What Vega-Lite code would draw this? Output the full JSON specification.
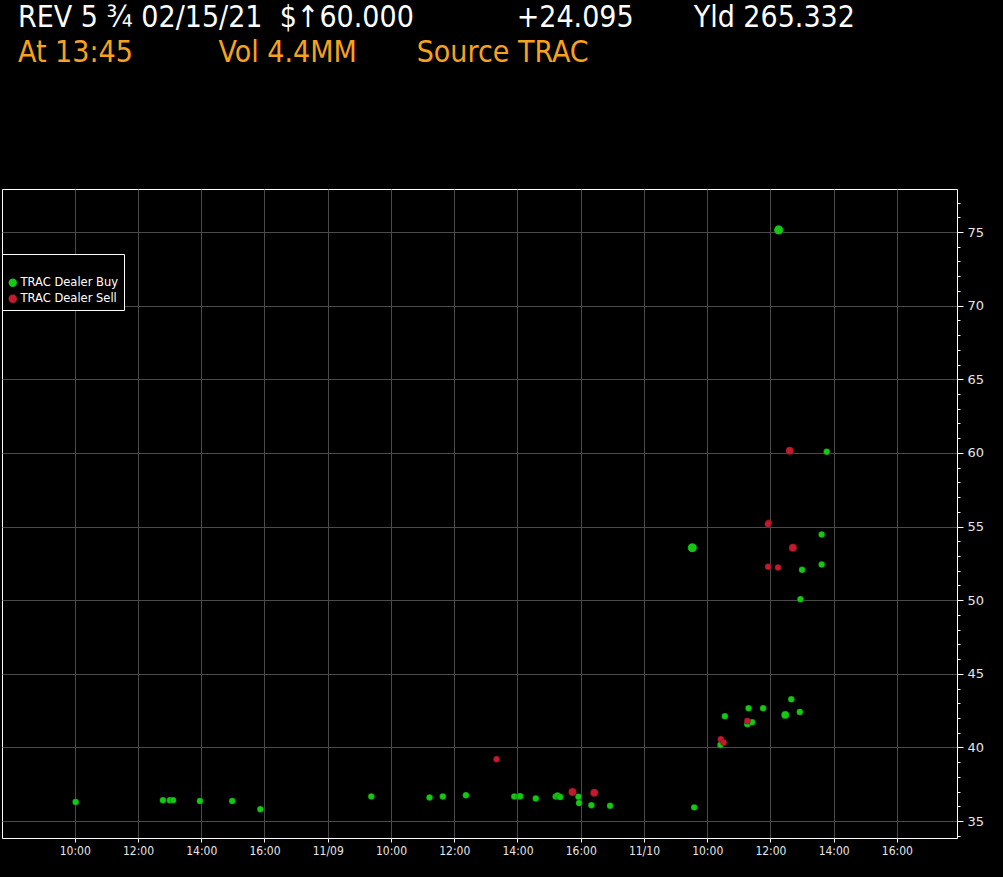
{
  "$schema": "https://vega.github.io/schema/vega-lite/v6.json",
  "width": 1003,
  "height": 877,
  "autosize": {"type": "fit", "contains": "padding"},
  "padding": {"left": 2, "top": 3, "right": 19, "bottom": 19},
  "background": "#000000",
  "title": {
    "text": "REV 5 ¾ 02/15/21\u00a0\u00a0$↑60.000\u00a0\u00a0\u00a0\u00a0\u00a0\u00a0\u00a0\u00a0\u00a0\u00a0\u00a0\u00a0+24.095\u00a0\u00a0\u00a0\u00a0\u00a0\u00a0\u00a0Yld 265.332",
    "subtitle": "\u00a0\u00a0\u00a0\u00a0\u00a0\u00a0\u00a0\u00a0\u00a0\u00a0\u00a0\u00a0\u00a0\u00a0\u00a0\u00a0\u00a0\u00a0\u00a0\u00a0\u00a0\u00a0\u00a0\u00a0\u00a0\u00a0\u00a0\u00a0\u00a0\u00a0\u00a0\u00a0\u00a0At 13:45\u00a0\u00a0\u00a0\u00a0\u00a0\u00a0\u00a0\u00a0\u00a0\u00a0Vol 4.4MM\u00a0\u00a0\u00a0\u00a0\u00a0\u00a0\u00a0Source TRAC",
    "anchor": "start",
    "frame": "group",
    "dx": 16,
    "offset": 121,
    "color": "#ffffff",
    "font": "DejaVu Sans Condensed",
    "fontSize": 30,
    "fontWeight": "normal",
    "subtitleColor": "#f7a21c",
    "subtitleFont": "DejaVu Sans Condensed",
    "subtitleFontSize": 30,
    "subtitlePadding": 5
  },
  "config": {
    "view": {"stroke": "#ffffff", "strokeWidth": 1},
    "axis": {
      "domain": false,
      "gridColor": "#4a4a4a",
      "gridWidth": 1,
      "tickColor": "#ffffff",
      "labelColor": "#e6e6e6",
      "titleColor": "#e6e6e6"
    },
    "legend": {
      "labelColor": "#ffffff",
      "titleColor": "#ffffff"
    }
  },
  "data": {
    "values": [
      {"side": "TRAC Dealer Buy", "session_hour": 2.03, "price": 36.29, "trade_size": "small"},
      {"side": "TRAC Dealer Buy", "session_hour": 4.79, "price": 36.42, "trade_size": "small"},
      {"side": "TRAC Dealer Buy", "session_hour": 5.01, "price": 36.42, "trade_size": "small"},
      {"side": "TRAC Dealer Buy", "session_hour": 5.11, "price": 36.42, "trade_size": "small"},
      {"side": "TRAC Dealer Buy", "session_hour": 5.96, "price": 36.36, "trade_size": "small"},
      {"side": "TRAC Dealer Buy", "session_hour": 6.98, "price": 36.36, "trade_size": "small"},
      {"side": "TRAC Dealer Buy", "session_hour": 7.87, "price": 35.81, "trade_size": "small"},
      {"side": "TRAC Dealer Buy", "session_hour": 11.38, "price": 36.67, "trade_size": "small"},
      {"side": "TRAC Dealer Buy", "session_hour": 13.22, "price": 36.6, "trade_size": "small"},
      {"side": "TRAC Dealer Buy", "session_hour": 13.64, "price": 36.67, "trade_size": "small"},
      {"side": "TRAC Dealer Buy", "session_hour": 14.37, "price": 36.76, "trade_size": "small"},
      {"side": "TRAC Dealer Buy", "session_hour": 15.9, "price": 36.67, "trade_size": "small"},
      {"side": "TRAC Dealer Buy", "session_hour": 16.04, "price": 36.67, "trade_size": "small"},
      {"side": "TRAC Dealer Buy", "session_hour": 16.09, "price": 36.69, "trade_size": "small"},
      {"side": "TRAC Dealer Buy", "session_hour": 16.58, "price": 36.54, "trade_size": "small"},
      {"side": "TRAC Dealer Buy", "session_hour": 17.21, "price": 36.67, "trade_size": "small"},
      {"side": "TRAC Dealer Buy", "session_hour": 17.27, "price": 36.74, "trade_size": "small"},
      {"side": "TRAC Dealer Buy", "session_hour": 17.35, "price": 36.63, "trade_size": "small"},
      {"side": "TRAC Dealer Buy", "session_hour": 17.93, "price": 36.65, "trade_size": "small"},
      {"side": "TRAC Dealer Buy", "session_hour": 17.95, "price": 36.22, "trade_size": "small"},
      {"side": "TRAC Dealer Buy", "session_hour": 18.34, "price": 36.08, "trade_size": "small"},
      {"side": "TRAC Dealer Buy", "session_hour": 18.93, "price": 36.04, "trade_size": "small"},
      {"side": "TRAC Dealer Buy", "session_hour": 21.59, "price": 35.93, "trade_size": "small"},
      {"side": "TRAC Dealer Buy", "session_hour": 21.53, "price": 53.56, "trade_size": "large"},
      {"side": "TRAC Dealer Buy", "session_hour": 22.42, "price": 40.17, "trade_size": "small"},
      {"side": "TRAC Dealer Buy", "session_hour": 22.56, "price": 42.12, "trade_size": "small"},
      {"side": "TRAC Dealer Buy", "session_hour": 23.27, "price": 41.58, "trade_size": "small"},
      {"side": "TRAC Dealer Buy", "session_hour": 23.42, "price": 41.71, "trade_size": "small"},
      {"side": "TRAC Dealer Buy", "session_hour": 23.31, "price": 42.66, "trade_size": "small"},
      {"side": "TRAC Dealer Buy", "session_hour": 23.77, "price": 42.66, "trade_size": "small"},
      {"side": "TRAC Dealer Buy", "session_hour": 24.26, "price": 75.14, "trade_size": "large"},
      {"side": "TRAC Dealer Buy", "session_hour": 24.47, "price": 42.21, "trade_size": "medium"},
      {"side": "TRAC Dealer Buy", "session_hour": 24.66, "price": 43.27, "trade_size": "small"},
      {"side": "TRAC Dealer Buy", "session_hour": 24.93, "price": 42.41, "trade_size": "small"},
      {"side": "TRAC Dealer Buy", "session_hour": 24.95, "price": 50.07, "trade_size": "small"},
      {"side": "TRAC Dealer Buy", "session_hour": 25.0, "price": 52.06, "trade_size": "small"},
      {"side": "TRAC Dealer Buy", "session_hour": 25.62, "price": 54.46, "trade_size": "small"},
      {"side": "TRAC Dealer Buy", "session_hour": 25.62, "price": 52.42, "trade_size": "small"},
      {"side": "TRAC Dealer Buy", "session_hour": 25.78, "price": 60.08, "trade_size": "small"},
      {"side": "TRAC Dealer Sell", "session_hour": 15.34, "price": 39.2, "trade_size": "small"},
      {"side": "TRAC Dealer Sell", "session_hour": 17.74, "price": 36.97, "trade_size": "medium"},
      {"side": "TRAC Dealer Sell", "session_hour": 18.43, "price": 36.92, "trade_size": "medium"},
      {"side": "TRAC Dealer Sell", "session_hour": 22.43, "price": 40.56, "trade_size": "small"},
      {"side": "TRAC Dealer Sell", "session_hour": 22.52, "price": 40.33, "trade_size": "small"},
      {"side": "TRAC Dealer Sell", "session_hour": 23.27, "price": 41.8, "trade_size": "small"},
      {"side": "TRAC Dealer Sell", "session_hour": 23.93, "price": 52.27, "trade_size": "small"},
      {"side": "TRAC Dealer Sell", "session_hour": 23.95, "price": 55.25, "trade_size": "small"},
      {"side": "TRAC Dealer Sell", "session_hour": 23.92, "price": 55.17, "trade_size": "small"},
      {"side": "TRAC Dealer Sell", "session_hour": 24.24, "price": 52.22, "trade_size": "small"},
      {"side": "TRAC Dealer Sell", "session_hour": 24.61, "price": 60.15, "trade_size": "medium"},
      {"side": "TRAC Dealer Sell", "session_hour": 24.71, "price": 53.56, "trade_size": "medium"}
    ]
  },
  "layer": [
    {
      "mark": {"type": "circle", "opacity": 1, "stroke": "#000000", "strokeWidth": 0.4, "strokeOpacity": 0.5},
      "encoding": {
        "x": {
          "field": "session_hour",
          "type": "quantitative",
          "scale": {"domain": [-0.3, 29.9], "nice": false, "zero": false},
          "axis": {
            "title": null,
            "orient": "bottom",
            "values": [2, 4, 6, 8, 10, 12, 14, 16, 18, 20, 22, 24, 26, 28],
            "labelExpr": "datum.value == 10 ? '11/09' : datum.value == 20 ? '11/10' : (8 + datum.value % 10) + ':00'",
            "grid": true,
            "ticks": true,
            "tickSize": 4,
            "labelPadding": 3,
            "labelFont": "DejaVu Sans Condensed",
            "labelFontSize": 12,
            "minExtent": 20,
            "maxExtent": 20
          }
        },
        "y": {
          "field": "price",
          "type": "quantitative",
          "scale": {"domain": [33.85, 77.92], "nice": false, "zero": false},
          "axis": {
            "title": null,
            "orient": "right",
            "values": [35, 40, 45, 50, 55, 60, 65, 70, 75],
            "grid": true,
            "tickSize": 6,
            "labelPadding": 4,
            "labelFont": "DejaVu Sans",
            "labelFontSize": 13,
            "minExtent": 27,
            "maxExtent": 27
          }
        },
        "color": {
          "field": "side",
          "type": "nominal",
          "scale": {"domain": ["TRAC Dealer Buy", "TRAC Dealer Sell"], "range": ["#14c814", "#c21a2e"]},
          "legend": {
            "title": "\u00a0",
            "titleFontSize": 12,
            "titlePadding": 6,
            "orient": "none",
            "legendX": 0,
            "legendY": 65,
            "fillColor": "#000000",
            "strokeColor": "#ffffff",
            "padding": 5,
            "symbolType": "circle",
            "symbolSize": 70,
            "symbolStrokeWidth": 0,
            "labelFont": "DejaVu Sans",
            "labelFontSize": 11.5,
            "labelOffset": 2,
            "rowPadding": 3
          }
        },
        "size": {
          "field": "trade_size",
          "type": "ordinal",
          "scale": {"domain": ["small", "medium", "large"], "range": [42, 85, 150]},
          "legend": null
        }
      }
    },
    {
      "mark": {"type": "point", "opacity": 0},
      "encoding": {
        "x": {"field": "session_hour", "type": "quantitative", "scale": {"domain": [-0.3, 29.9], "nice": false, "zero": false}, "axis": null},
        "y": {
          "field": "price",
          "type": "quantitative",
          "scale": {"domain": [33.85, 77.92], "nice": false, "zero": false},
          "axis": {
            "title": null,
            "orient": "right",
            "values": [34, 35, 36, 37, 38, 39, 40, 41, 42, 43, 44, 45, 46, 47, 48, 49, 50, 51, 52, 53, 54, 55, 56, 57, 58, 59, 60, 61, 62, 63, 64, 65, 66, 67, 68, 69, 70, 71, 72, 73, 74, 75, 76, 77],
            "labels": false,
            "grid": false,
            "tickSize": 3,
            "minExtent": 27,
            "maxExtent": 27
          }
        }
      }
    }
  ],
  "resolve": {"axis": {"y": "independent", "x": "independent"}}
}
